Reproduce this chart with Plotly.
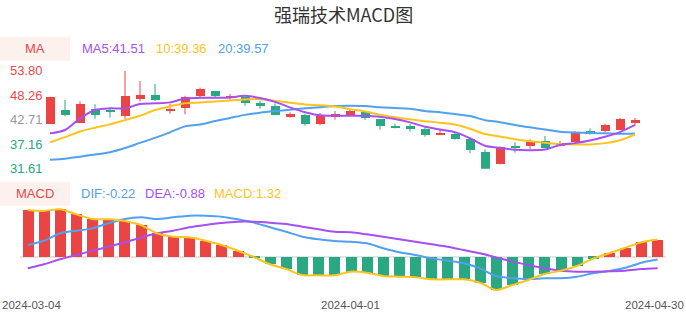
import plotly.graph_objects as go

# ---------------- data ----------------
dates = ["2024-03-04", "2024-03-05", "2024-03-06", "2024-03-07", "2024-03-08",
         "2024-03-11", "2024-03-12", "2024-03-13", "2024-03-14", "2024-03-15",
         "2024-03-18", "2024-03-19", "2024-03-20", "2024-03-21", "2024-03-22",
         "2024-03-25", "2024-03-26", "2024-03-27", "2024-03-28", "2024-03-29",
         "2024-04-01", "2024-04-02", "2024-04-03", "2024-04-08", "2024-04-09",
         "2024-04-10", "2024-04-11", "2024-04-12", "2024-04-15", "2024-04-16",
         "2024-04-17", "2024-04-18", "2024-04-19", "2024-04-22", "2024-04-23",
         "2024-04-24", "2024-04-25", "2024-04-26", "2024-04-29", "2024-04-30"]

opens = [41.80, 44.97, 42.03, 45.29, 44.97, 43.54, 47.39, 48.30, 44.75, 45.42,
         48.14, 49.20, 47.78, 47.91, 46.55, 45.88, 43.48, 43.93, 41.80, 43.32,
         43.70, 44.52, 42.87, 41.44, 41.35, 40.67, 39.31, 39.54, 38.50, 35.55,
         32.68, 36.91, 36.82, 38.04, 36.91, 37.66, 40.15, 40.22, 40.53, 42.19]
closes = [47.85, 43.84, 46.33, 43.93, 44.61, 48.07, 48.30, 47.17, 45.13, 48.00,
          49.66, 48.07, 48.14, 46.55, 45.81, 43.77, 43.99, 41.80, 43.54, 44.16,
          44.83, 43.16, 41.44, 40.99, 40.67, 39.31, 39.54, 38.34, 35.91, 31.70,
          36.68, 36.46, 37.73, 36.46, 37.43, 40.08, 39.70, 41.58, 43.02, 42.64]
highs = [47.90, 47.17, 46.87, 46.19, 45.20, 53.80, 51.47, 50.79, 46.33, 48.10,
         49.95, 49.25, 48.52, 47.95, 47.01, 46.42, 44.38, 44.00, 44.22, 44.68,
         45.20, 44.60, 42.90, 41.80, 41.73, 40.90, 40.31, 39.70, 38.60, 36.00,
         36.70, 37.59, 38.27, 39.02, 37.88, 40.15, 40.76, 41.80, 43.10, 43.09]
lows = [41.75, 43.48, 41.95, 42.93, 43.16, 42.93, 46.87, 46.94, 44.06, 43.93,
        47.46, 47.69, 47.24, 45.88, 45.20, 43.70, 43.16, 41.35, 41.44, 42.71,
        43.60, 42.64, 40.44, 40.76, 39.99, 38.86, 39.17, 38.18, 35.10, 31.61,
        32.60, 35.24, 36.07, 36.30, 36.68, 37.60, 39.31, 39.92, 40.50, 41.44]

ma5 = [39.61, 40.37, 43.00, 44.90, 45.27, 45.27, 46.26, 46.41, 46.63, 47.50,
       47.65, 47.69, 47.75, 48.10, 47.60, 46.75, 45.50, 44.40, 43.70, 43.60,
       43.60, 43.60, 43.35, 42.85, 42.10, 41.10, 40.50, 39.90, 38.50, 36.80,
       36.30, 35.88, 35.80, 35.95, 37.00, 37.40, 38.00, 38.85, 39.90, 41.51]
ma10 = [37.60, 38.75, 40.05, 40.90, 41.65, 42.60, 43.60, 44.90, 45.75, 46.45,
        46.60, 46.85, 47.05, 47.30, 47.35, 46.95, 46.56, 46.15, 45.98, 45.70,
        45.10, 44.55, 43.85, 43.25, 42.80, 42.38, 42.03, 41.60, 40.65, 39.45,
        38.90, 38.30, 37.85, 37.50, 37.20, 37.10, 37.10, 37.40, 38.05, 39.36]
ma20 = [33.62, 33.88, 34.30, 34.82, 35.35, 36.30, 37.45, 38.60, 39.85, 41.20,
        41.60, 42.40, 43.10, 43.80, 44.30, 44.65, 44.95, 45.30, 45.55, 45.80,
        45.85, 45.80, 45.50, 45.35, 45.20, 44.70, 44.37, 43.99, 43.54, 42.60,
        42.15, 41.50, 40.97, 40.50, 39.99, 39.80, 39.69, 39.61, 39.50, 39.57]

dif = [0.90, 1.23, 1.80, 2.00, 2.18, 2.57, 2.90, 3.03, 2.90, 3.03,
       3.15, 3.15, 3.08, 2.88, 2.62, 2.26, 1.92, 1.54, 1.34, 1.21,
       1.15, 1.03, 0.65, 0.34, 0.13, -0.13, -0.31, -0.51, -0.90, -1.49,
       -1.66, -1.72, -1.66, -1.66, -1.54, -1.28, -1.10, -0.85, -0.46, -0.22]
dea = [-0.89, -0.58, -0.20, 0.13, 0.46, 0.77, 1.11, 1.46, 1.80, 2.00,
       2.26, 2.44, 2.59, 2.69, 2.69, 2.62, 2.51, 2.31, 2.11, 1.92,
       1.88, 1.72, 1.54, 1.34, 1.15, 0.95, 0.77, 0.51, 0.26, -0.05,
       -0.38, -0.64, -0.89, -1.08, -1.15, -1.15, -1.12, -1.08, -0.95, -0.88]
macd = [3.59, 3.52, 3.65, 3.26, 2.90, 2.88, 2.75, 2.44, 1.80, 1.54,
        1.49, 1.23, 0.90, 0.46, -0.03, -0.58, -0.95, -1.41, -1.43, -1.43,
        -1.15, -1.23, -1.48, -1.54, -1.58, -1.74, -1.74, -1.74, -2.00, -2.56,
        -2.18, -1.79, -1.33, -1.08, -0.72, -0.15, 0.26, 0.69, 1.11, 1.32]

price_ticks = [53.80, 48.26, 42.71, 37.16, 31.61]
price_tick_colors = ["#e84a4a", "#e84a4a", "#999999", "#2aa783", "#2aa783"]
date_ticks = [dates[0], dates[20], dates[39]]
title_text = "强瑞技术MACD图"

# ---------------- style ----------------
RED = "#eb4444"
GREEN = "#2aa783"
PURPLE = "#a64ff2"
YELLOW = "#fcc41c"
BLUE = "#52a0f0"
FONT = "Liberation Sans, Arial, Noto Sans CJK SC, sans-serif"
W, H = 686, 320


def py(px):  # pixel row -> paper y
    return 1 - px / H


def pxx(px):  # pixel column -> paper x
    return px / W


fig = go.Figure()

up = [c >= o for o, c in zip(opens, closes)]

# candle bodies (first trace so category order follows dates)
fig.add_trace(go.Bar(
    x=dates,
    base=[min(o, c) for o, c in zip(opens, closes)],
    y=[abs(c - o) for o, c in zip(opens, closes)],
    marker=dict(color=[RED if u else GREEN for u in up], line=dict(width=0)),
    width=0.54, xaxis="x", yaxis="y", showlegend=False))

# candle wicks
for flag, col in ((True, RED), (False, GREEN)):
    wx, wy = [], []
    for d, h, l, u in zip(dates, highs, lows, up):
        if u == flag:
            wx += [d, d, None]
            wy += [l, h, None]
    fig.add_trace(go.Scatter(x=wx, y=wy, mode="lines", line=dict(color=col, width=1),
                             xaxis="x", yaxis="y", hoverinfo="skip", showlegend=False))

# moving averages
for series, col in ((ma20, BLUE), (ma10, YELLOW), (ma5, PURPLE)):
    fig.add_trace(go.Scatter(x=dates, y=series, mode="lines",
                             line=dict(color=col, width=2, shape="spline", smoothing=0.8),
                             xaxis="x", yaxis="y", showlegend=False))

# MACD histogram
fig.add_trace(go.Bar(x=dates, y=macd,
                     marker=dict(color=[RED if v >= 0 else GREEN for v in macd], line=dict(width=0)),
                     width=0.68, xaxis="x2", yaxis="y2", showlegend=False))
for series, col in ((dif, BLUE), (dea, PURPLE), (macd, YELLOW)):
    fig.add_trace(go.Scatter(x=dates, y=series, mode="lines",
                             line=dict(color=col, width=2, shape="spline", smoothing=0.8),
                             xaxis="x2", yaxis="y2", showlegend=False))

# ---------------- layout ----------------
top_lo, top_hi = min(lows), max(highs)
k = 13.0  # px per MACD unit
zero_px = 256.7
m_top_px, m_bot_px = 200, 300

fig.update_layout(
    width=W, height=H,
    margin=dict(l=0, r=0, t=0, b=0, pad=0, autoexpand=False),
    paper_bgcolor="white", plot_bgcolor="white",
    showlegend=False,
    bargap=0,
    barmode="overlay",
    font=dict(family=FONT, size=13, color="#333"),
    xaxis=dict(domain=[pxx(42.5), pxx(642.5)], type="category", range=[-0.5, 39.5],
               categoryorder="array", categoryarray=dates,
               showticklabels=False, showgrid=False, zeroline=False, showline=False,
               automargin=False, anchor="y"),
    yaxis=dict(domain=[py(168.7), py(70.7)], range=[top_lo, top_hi],
               showticklabels=False, showgrid=False, zeroline=False, showline=False,
               automargin=False, anchor="x"),
    xaxis2=dict(domain=[pxx(19.7), pxx(665.7)], type="category", range=[-0.5, 39.5],
                categoryorder="array", categoryarray=dates,
                showticklabels=False, showgrid=False, zeroline=False, showline=False,
                automargin=False, anchor="y2"),
    yaxis2=dict(domain=[py(m_bot_px), py(m_top_px)],
                range=[(zero_px - m_bot_px) / k, (zero_px - m_top_px) / k],
                showticklabels=False, showgrid=False, zeroline=True,
                zerolinecolor="#e3e3e3", zerolinewidth=1.5, layer="below traces",
                automargin=False, anchor="x2"),
)

shapes = [
    dict(type="rect", xref="paper", yref="paper", x0=0, x1=pxx(70), y0=py(60.7), y1=py(36.7),
         fillcolor="#fdf1ed", line=dict(width=0), layer="below"),
    dict(type="rect", xref="paper", yref="paper", x0=0, x1=pxx(70), y0=py(205.7), y1=py(181.7),
         fillcolor="#fdf1ed", line=dict(width=0), layer="below"),
]
fig.update_layout(shapes=shapes)

ann = []
ann.append(dict(text=title_text, x=0.5, y=py(14), xref="paper", yref="paper",
                xanchor="center", yanchor="middle", showarrow=False,
                font=dict(family="Noto Sans CJK SC, sans-serif", size=18, color="#333")))

legend_items = [
    ("MA", "#e8474b", 35, "center", 48.7),
    (f"MA5:{ma5[-1]:.2f}", PURPLE, 80, "left", 48.7),
    (f"10:{ma10[-1]:.2f}", YELLOW, 153.5, "left", 48.7),
    (f"20:{ma20[-1]:.2f}", BLUE, 216, "left", 48.7),
    ("MACD", "#e8474b", 35, "center", 193.7),
    (f"DIF:{dif[-1]:.2f}", BLUE, 78.5, "left", 193.7),
    (f"DEA:{dea[-1]:.2f}", PURPLE, 142.5, "left", 193.7),
    (f"MACD:{macd[-1]:.2f}", YELLOW, 211.5, "left", 193.7),
]
for txt, col, x, anc, y in legend_items:
    ann.append(dict(text=txt, x=pxx(x), y=py(y), xref="paper", yref="paper",
                    xanchor=anc, yanchor="middle", showarrow=False,
                    font=dict(family=FONT, size=13, color=col)))

for v, col in zip(price_ticks, price_tick_colors):
    ann.append(dict(text=f"{v:.2f}", x=pxx(7.5), y=v, xref="paper", yref="y",
                    xanchor="left", yanchor="middle", showarrow=False,
                    font=dict(family=FONT, size=13, color=col)))

# date labels: first and last are kept inside the page edges
date_font = dict(family=FONT, size=11.5, color="#555")
ann.append(dict(text=date_ticks[0], x=0, y=py(305), xref="paper", yref="paper",
                xanchor="left", yanchor="middle", showarrow=False, font=date_font))
ann.append(dict(text=date_ticks[1], x=date_ticks[1], y=py(305), xref="x2", yref="paper",
                xanchor="center", yanchor="middle", showarrow=False, font=date_font))
ann.append(dict(text=date_ticks[2], x=1, y=py(305), xref="paper", yref="paper",
                xanchor="right", yanchor="middle", showarrow=False, font=date_font))

fig.update_layout(annotations=ann)

fig.write_html("out.html")
